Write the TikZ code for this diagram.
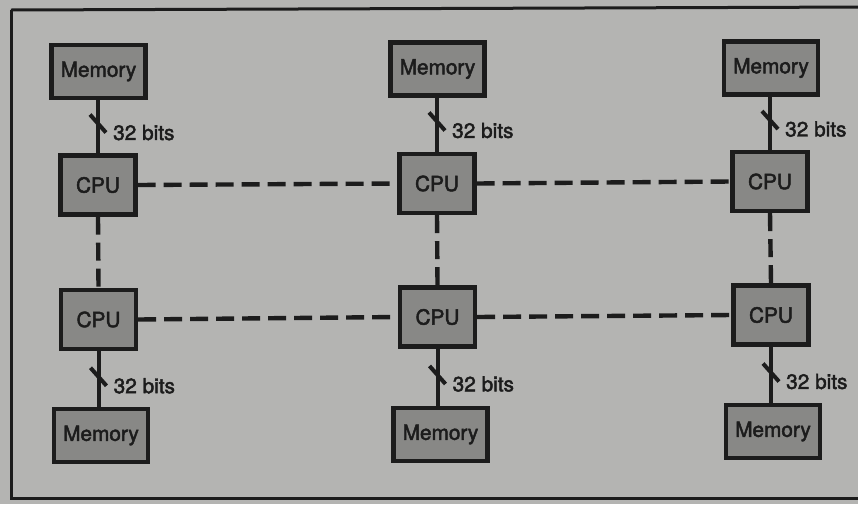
\documentclass[tikz,border=0pt]{standalone}
\usepackage{fontspec}
\setmainfont{TeX Gyre Heros}
\newfontfamily\diagfont[FakeBold=2.2]{TeX Gyre Heros}
\usetikzlibrary{calc}
\definecolor{paper}{RGB}{180,180,178}
\definecolor{boxfill}{RGB}{136,136,134}
\definecolor{ink}{RGB}{28,28,28}
\tikzset{
  unitbox/.style={draw=ink, line width=4.4pt, fill=boxfill, inner sep=0pt, text=ink,
    font=\diagfont\fontsize{20.8}{23}\selectfont},
  membox/.style={unitbox, minimum width=94pt, minimum height=53pt},
  cpubox/.style={unitbox, minimum width=75pt, minimum height=59pt},
  bus/.style={draw=ink, line width=4pt},
  link/.style={draw=ink, line width=4.4pt, dash pattern=on 18pt off 8pt},
  slash/.style={draw=ink, line width=4pt},
  buslabel/.style={anchor=west, text=ink, inner sep=0pt, font=\diagfont\fontsize{20.8}{23}\selectfont},
}
\begin{document}
\begin{tikzpicture}[x=1pt,y=-1pt]
\fill[paper] (0,0) rectangle (858,504);
\useasboundingbox (0,0) rectangle (858,504);
\draw[ink, line width=3pt] (11,10) -- (11,498) -- (870,498);
\draw[ink, line width=3pt] (11,10) -- (870,7);

\node[membox] (m1) at (98.5,71.5) {Memory};
\node[membox] (m2) at (437.5,69) {Memory};
\node[membox] (m3) at (771,68) {Memory};
\node[membox] (m4) at (101,435.5) {Memory};
\node[membox] (m5) at (440.5,434.5) {Memory};
\node[membox] (m6) at (773,431.5) {Memory};

\node[cpubox] (c1) at (98,185) {CPU};
\node[cpubox] (c2) at (437,183.5) {CPU};
\node[cpubox] (c3) at (770,181.5) {CPU};
\node[cpubox] (c4) at (98.5,319.5) {CPU};
\node[cpubox] (c5) at (437.5,317) {CPU};
\node[cpubox] (c6) at (771,315) {CPU};

% dashed interconnect
\draw[link] (c1.east) -- (c2.west);
\draw[link] (c2.east) -- (c3.west);
\draw[link] (c4.east) -- (c5.west);
\draw[link] (c5.east) -- (c6.west);
\draw[link] (c1.south) -- (c4.north);
\draw[link] (c2.south) -- (c5.north);
\draw[link] (c3.south) -- (c6.north);

% memory buses (top row: memory above cpu)
\foreach \m/\c/\t in {m1/c1/t1, m2/c2/t2, m3/c3/t3}{
  \draw[bus] (\c.north |- \m.south) -- (\c.north) coordinate[pos=0.44] (\t);
}
% bottom row: cpu above memory
\foreach \m/\c/\t in {m4/c4/t4, m5/c5/t5, m6/c6/t6}{
  \draw[bus] (\c.south) -- (\c.south |- \m.north) coordinate[pos=0.46] (\t);
}
\foreach \t in {t1,t2,t3,t4,t5,t6}{
  \draw[slash] ($(\t)+(-8,-9)$) -- ($(\t)+(8,9)$);
  \node[buslabel] at ($(\t)+(15,9)$) {32 bits};
}
\end{tikzpicture}
\end{document}
